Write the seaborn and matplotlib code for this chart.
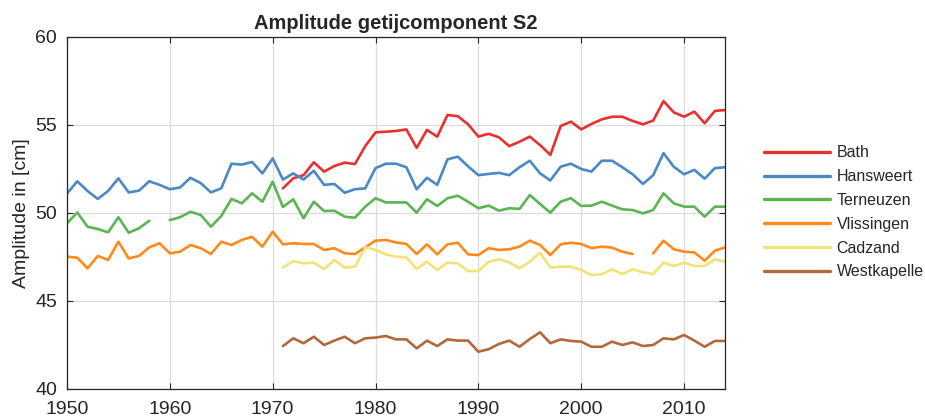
#Amplitude getijcomponent S2 per station
import numpy as np
import pandas as pd
import seaborn as sns
import matplotlib
matplotlib.use("Agg")
import matplotlib.pyplot as plt

#Datos (cm), años 1950-2014
years = list(range(1950, 2015))
nan = np.nan

bath = [nan] * 21 + [
    51.4, 51.97, 52.15, 52.88, 52.35, 52.67, 52.86, 52.78, 53.8, 54.58,
    54.62, 54.66, 54.75, 53.7, 54.72, 54.34, 55.57, 55.5, 55.04, 54.34,
    54.5, 54.3, 53.8, 54.05, 54.34, 53.86, 53.3, 54.94, 55.19, 54.75,
    55.06, 55.32, 55.47, 55.47, 55.23, 55.04, 55.25, 56.36, 55.72, 55.47,
    55.76, 55.1, 55.8, 55.85]

hansweert = [
    51.1, 51.8, 51.25, 50.8, 51.25, 51.97, 51.17, 51.27, 51.8, 51.6,
    51.35, 51.45, 52.0, 51.7, 51.17, 51.4, 52.8, 52.75, 52.9, 52.25,
    53.1, 51.9, 52.25, 51.9, 52.4, 51.6, 51.65, 51.15, 51.35, 51.4,
    52.55, 52.8, 52.8, 52.6, 51.35, 52.0, 51.6, 53.05, 53.2, 52.65,
    52.15, 52.22, 52.28, 52.15, 52.6, 52.97, 52.25, 51.85, 52.63, 52.8,
    52.5, 52.35, 52.97, 52.97, 52.6, 52.2, 51.65, 52.15, 53.4, 52.63,
    52.2, 52.45, 51.95, 52.55, 52.6]

terneuzen = [
    49.41, 50.03, 49.22, 49.09, 48.9, 49.76, 48.88, 49.13, 49.56, nan,
    49.6, 49.76, 50.07, 49.89, 49.22, 49.83, 50.8, 50.55, 51.12, 50.64,
    51.78, 50.34, 50.78, 49.7, 50.64, 50.11, 50.13, 49.79, 49.73, 50.36,
    50.84, 50.6, 50.6, 50.6, 50.02, 50.78, 50.4, 50.84, 50.98, 50.64,
    50.27, 50.42, 50.13, 50.27, 50.23, 51.02, 50.51, 50.02, 50.64, 50.84,
    50.4, 50.42, 50.64, 50.42, 50.21, 50.17, 49.98, 50.17, 51.12, 50.55,
    50.36, 50.36, 49.79, 50.36, 50.36]

vlissingen = [
    47.52, 47.46, 46.86, 47.56, 47.33, 48.37, 47.42, 47.56, 48.05, 48.28,
    47.71, 47.8, 48.18, 48.0, 47.67, 48.37, 48.18, 48.47, 48.65, 48.09,
    48.94, 48.22, 48.28, 48.24, 48.24, 47.9, 48.0, 47.71, 47.67, 48.05,
    48.43, 48.47, 48.33, 48.24, 47.67, 48.22, 47.65, 48.22, 48.31, 47.65,
    47.61, 48.0, 47.9, 47.94, 48.09, 48.43, 48.18, 47.61, 48.22, 48.31,
    48.24, 48.0, 48.09, 48.03, 47.8, 47.67, nan, 47.71, 48.43, 47.94,
    47.8, 47.76, 47.29, 47.86, 48.05]

cadzand = [nan] * 21 + [
    46.9, 47.27, 47.14, 47.18, 46.82, 47.33, 46.9, 46.95, 48.05, 47.9,
    47.65, 47.52, 47.48, 46.82, 47.23, 46.76, 47.18, 47.14, 46.7, 46.7,
    47.22, 47.37, 47.2, 46.86, 47.23, 47.74, 46.9, 46.95, 46.95, 46.76,
    46.48, 46.52, 46.8, 46.53, 46.8, 46.63, 46.53, 47.18, 46.99, 47.18,
    46.99, 46.99, 47.37, 47.23]

westkapelle = [nan] * 21 + [
    42.44, 42.88, 42.6, 42.97, 42.5, 42.75, 42.97, 42.6, 42.88, 42.92,
    43.01, 42.82, 42.82, 42.31, 42.75, 42.44, 42.82, 42.75, 42.75, 42.12,
    42.26, 42.56, 42.75, 42.4, 42.84, 43.22, 42.6, 42.82, 42.73, 42.69,
    42.4, 42.4, 42.69, 42.5, 42.65, 42.44, 42.5, 42.88, 42.82, 43.07,
    42.75, 42.4, 42.73, 42.73]

stations = ["Bath", "Hansweert", "Terneuzen", "Vlissingen", "Cadzand", "Westkapelle"]
colores = ["#e8312f", "#4a89c4", "#5ab552", "#ff8a1a", "#f1e27a", "#b2683a"]

#Tabla larga; cada tramo sin huecos es una unidad aparte
df = pd.DataFrame({"Jaar": years, "Bath": bath, "Hansweert": hansweert,
                   "Terneuzen": terneuzen, "Vlissingen": vlissingen,
                   "Cadzand": cadzand, "Westkapelle": westkapelle})
largo = df.melt(id_vars="Jaar", var_name="Station", value_name="Amplitude")
largo["tramo"] = largo.groupby("Station")["Amplitude"].transform(lambda s: s.isna().cumsum())
largo["unidad"] = largo["Station"] + "_" + largo["tramo"].astype(str)
largo = largo.dropna()

sns.set_theme(style="ticks")
plt.rcParams["font.family"] = ["Liberation Sans", "DejaVu Sans"]

fig = plt.figure(figsize=(9.25, 4.19), dpi=100)
ax = fig.add_axes([0.0724, 0.0716, 0.7116, 0.8401])

sns.lineplot(data=largo, x="Jaar", y="Amplitude", hue="Station", units="unidad",
             estimator=None, hue_order=stations, palette=colores,
             linewidth=1.9, ax=ax, legend=False)

ax.set_xlim(1950, 2014)
ax.set_ylim(40, 60)
ax.set_xticks(range(1950, 2011, 10))
ax.set_yticks(range(40, 61, 5))
ax.grid(True, color="#dcdcdc", linewidth=0.9)
ax.tick_params(direction="in", top=True, right=True, length=4, width=0.8,
               labelsize=14, colors="#262626")
ax.tick_params(axis="x", pad=8.5)
ax.tick_params(axis="y", pad=7)
for lado in ax.spines.values():
    lado.set_color("#262626")
    lado.set_linewidth(0.9)

ax.set_xlabel("")
ax.set_ylabel("Amplitude in [cm]", fontsize=14, color="#262626", labelpad=4)
ax.set_title("Amplitude getijcomponent S2", fontsize=14.5, fontweight="bold", pad=6)

#Leyenda fuera del eje
lineas = [plt.Line2D([], [], color=c, linewidth=2.4) for c in colores]
fig.legend(lineas, stations, loc="center left", bbox_to_anchor=(0.826, 0.493),
           frameon=False, fontsize=11.5, handlelength=4.1, handletextpad=0.45,
           labelspacing=0.55, borderpad=0, borderaxespad=0)

plt.savefig("out.png", dpi=100)
